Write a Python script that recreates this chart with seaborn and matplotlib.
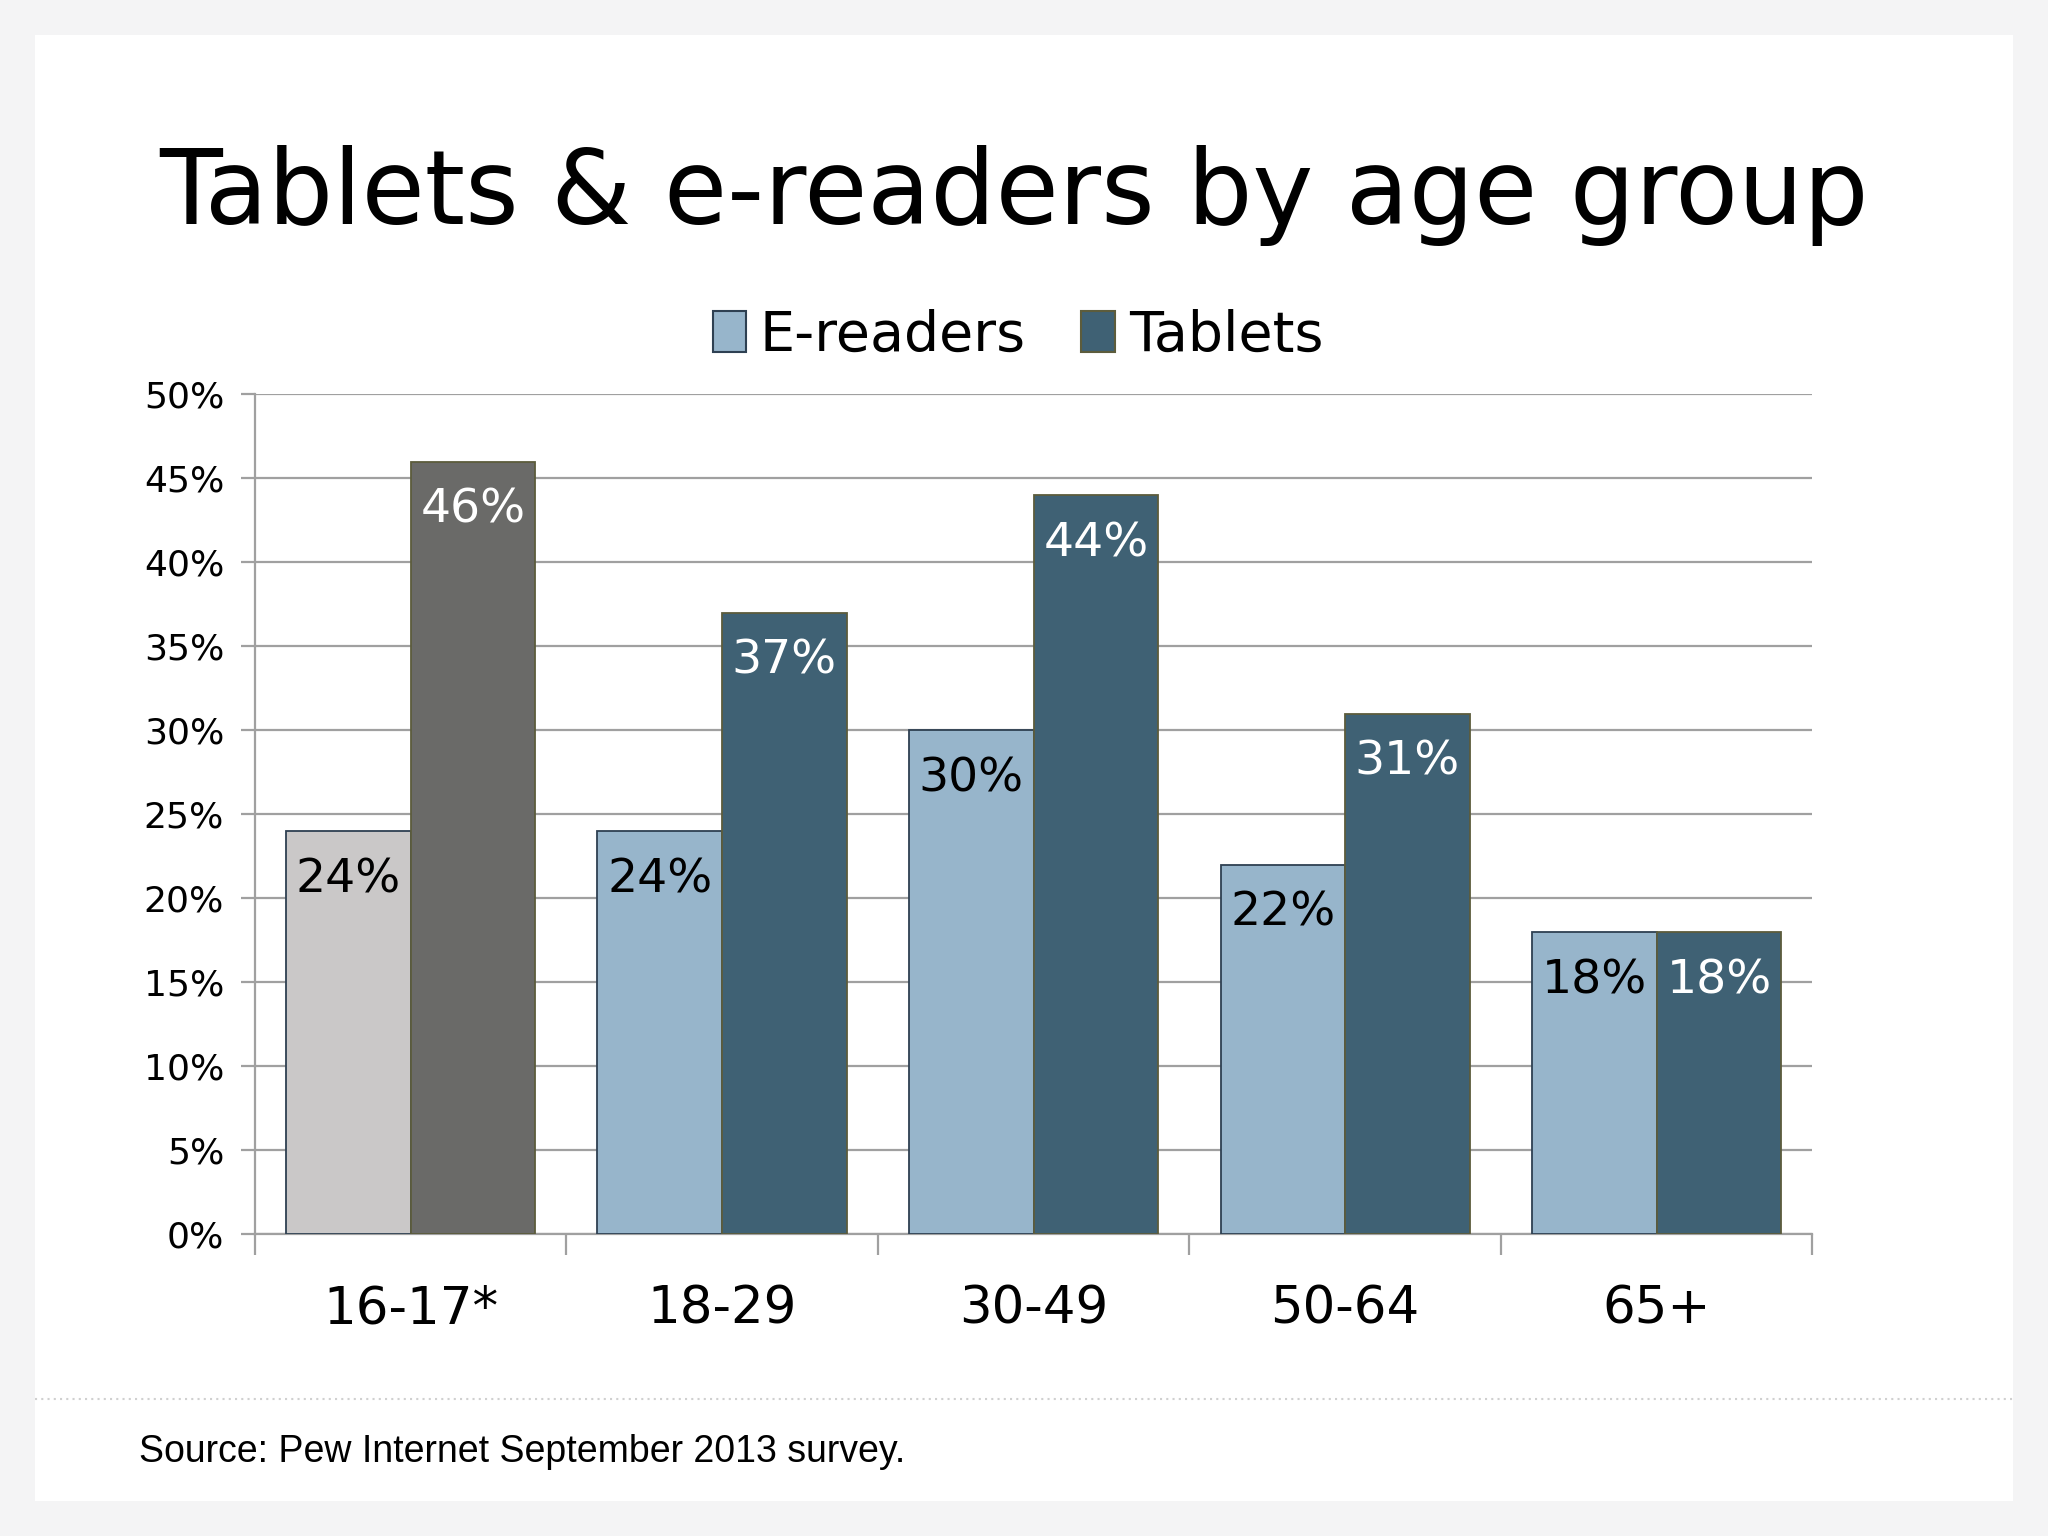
import numpy as np
import pandas as pd
import matplotlib
matplotlib.use("Agg")
import matplotlib.pyplot as plt
import seaborn as sns
from matplotlib.patches import Rectangle
from matplotlib.lines import Line2D
from matplotlib.ticker import FixedLocator, FuncFormatter

####################################################################################
## data
####################################################################################
age_groups = ["16-17*", "18-29", "30-49", "50-64", "65+"]
ereaders = [24, 24, 30, 22, 18]
tablets = [46, 37, 44, 31, 18]
series_names = ["E-readers", "Tablets"]
title_text = "Tablets & e-readers by age group"
source_text = "Source: Pew Internet September 2013 survey."

df = pd.DataFrame({
    "group": age_groups * 2,
    "device": [series_names[0]] * len(age_groups) + [series_names[1]] * len(age_groups),
    "pct": ereaders + tablets,
})

# colours
ereader_col = "#97b5cb"
tablet_col = "#3f6174"
teen_light = "#cac8c8"
teen_dark = "#6a6a68"
ereader_edge = "#2e4052"
tablet_edge = "#5c5c3c"
grid_col = "#a0a0a0"

####################################################################################
## figure
####################################################################################
sns.set_style("white")
plt.rcParams["font.family"] = ["DejaVu Sans"]

fig = plt.figure(figsize=(20.48, 15.36), dpi=100)
fig.patch.set_facecolor("#f4f4f5")
# white card behind everything
fig.patches.append(Rectangle((0.0172, 0.023), 0.9656, 0.954, transform=fig.transFigure,
                             facecolor="white", edgecolor="none", zorder=-10))

ax = fig.add_axes([0.1244, 0.1964, 0.7606, 0.5468])
ax.set_zorder(2)
ax.set_facecolor("white")

sns.barplot(data=df, x="group", y="pct", hue="device", order=age_groups,
            hue_order=series_names, width=0.8, legend=False, ax=ax, zorder=3,
            palette=[ereader_col, tablet_col], saturation=1)

# recolour bars, first group is grey
for k, cont in enumerate(ax.containers):
    for i, bar in enumerate(cont):
        if k == 0:
            fc = teen_light if i == 0 else ereader_col
            ec = ereader_edge
            tc = "black"
        else:
            fc = teen_dark if i == 0 else tablet_col
            ec = tablet_edge
            tc = "white"
        bar.set_facecolor(fc)
        bar.set_edgecolor(ec)
        bar.set_linewidth(1.3)
        h = bar.get_height()
        ax.annotate(f"{h:.0f}%", (bar.get_x() + bar.get_width() / 2, h),
                    xytext=(0, -35), textcoords="offset points",
                    ha="center", va="center", fontsize=34, color=tc, zorder=5)

ax.set_ylim(0, 50)
ax.set_xlim(-0.5, len(age_groups) - 0.5)
ax.yaxis.set_major_locator(FixedLocator(np.arange(0, 51, 5)))
ax.yaxis.set_major_formatter(FuncFormatter(lambda v, p: f"{v:.0f}%"))
ax.grid(axis="y", color=grid_col, linewidth=1.6, zorder=0)
ax.set_axisbelow(True)

ax.xaxis.set_minor_locator(FixedLocator(np.arange(-0.5, len(age_groups), 1)))
ax.tick_params(axis="x", which="both", bottom=True)
ax.tick_params(axis="x", which="major", length=0, labelsize=37, pad=36, colors="black")
ax.tick_params(axis="x", which="minor", length=15, width=1.6, color=grid_col, direction="out")
ax.tick_params(axis="y", which="major", left=True, length=10, width=1.6, color=grid_col,
               labelsize=26, pad=12, direction="out", labelcolor="black")
ax.set_xlabel("")
ax.set_ylabel("")

for side in ["top", "right"]:
    ax.spines[side].set_visible(False)
for side in ["left", "bottom"]:
    ax.spines[side].set_color(grid_col)
    ax.spines[side].set_linewidth(1.6)

# legend
handles = [Rectangle((0, 0), 1, 1, facecolor=ereader_col, edgecolor=ereader_edge, linewidth=1.5),
           Rectangle((0, 0), 1, 1, facecolor=tablet_col, edgecolor=tablet_edge, linewidth=1.5)]
fig.legend(handles, series_names, loc="center", bbox_to_anchor=(0.497, 0.7815), ncol=2,
           frameon=False, fontsize=40, handlelength=0.6, handleheight=0.75,
           handletextpad=0.25, columnspacing=1.0, labelcolor="black")

fig.text(0.495, 0.8724, title_text, ha="center", va="center", fontsize=74, color="black")

# dotted separator and source
fig.lines.append(Line2D([0.0172, 0.9828], [0.0893, 0.0893], transform=fig.transFigure,
                        color="#d0d0d0", linewidth=1.5, linestyle=(0, (1, 2))))
fig.text(0.068, 0.0545, source_text, ha="left", va="center", fontsize=27,
         family=["Liberation Sans Narrow", "Liberation Sans", "DejaVu Sans"], color="black")

fig.savefig("out.png", dpi=100, facecolor=fig.get_facecolor())
